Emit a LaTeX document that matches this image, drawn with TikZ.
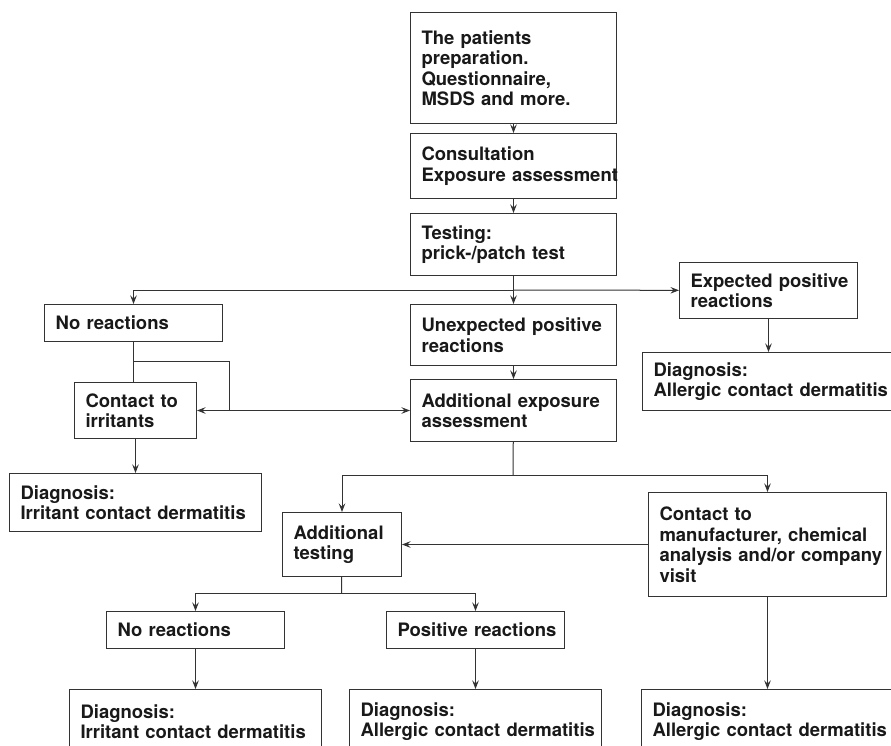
\documentclass[tikz,border=0pt]{standalone}
\usepackage{fontspec}
\setmainfont{TeX Gyre Heros}
\usetikzlibrary{arrows.meta}

\begin{document}
\begin{tikzpicture}[x=1pt, y=-1pt,
        box/.style={draw=black!80, line width=1pt, anchor=north west, align=left,
            inner xsep=11pt, inner ysep=0pt, text=black!90,
            execute at begin node={\hyphenpenalty=10000\exhyphenpenalty=10000},
            font=\bfseries\fontsize{18.5}{20.5}\selectfont},
        link/.style={draw=black!80, line width=1pt},
        flow/.style={link, -{Stealth[length=8.5pt, width=6.5pt, inset=3pt]}},
        both/.style={link, {Stealth[length=8.5pt, width=6.5pt, inset=3pt]}-{Stealth[length=8.5pt, width=6.5pt, inset=3pt]}}]
                \useasboundingbox (0,0) rectangle (891,746);
                \clip (0,0) rectangle (891,746);

                % main column
                \node[box, text width=184pt, minimum height=111pt] (prep) at (410,12)
                    {The patients\\preparation.\\Questionnaire,\\MSDS and more.};
                \node[box, text width=184pt, minimum height=65pt] (consult) at (410,133)
                    {Consultation\\Exposure~assessment};
                \node[box, text width=184pt, minimum height=62pt] (testing) at (410,213)
                    {Testing:\\prick-/patch test};
                \node[box, text width=184pt, minimum height=61pt] (unexp) at (410,304)
                    {Unexpected~positive\\reactions};
                \node[box, text width=184pt, minimum height=62pt] (addexp) at (410,379)
                    {Additional~exposure\\assessment};

                % left branch
                \node[box, text width=156pt, minimum height=37pt] (noreac) at (44,304) {No reactions};
                \node[box, text width=100pt, minimum height=56pt] (irritant) at (74,382) {Contact to\\irritants};
                \node[box, text width=230pt, minimum height=58pt] (diagIa) at (9,473)
                    {Diagnosis:\\Irritant contact dermatitis};

                % right branch
                \node[box, text width=156pt, minimum height=56pt] (expected) at (679,262)
                    {Expected~positive\\reactions};
                \node[box, text width=238pt, minimum height=58pt] (diagAa) at (642,352)
                    {Diagnosis:\\Allergic~contact~dermatitis};

                % lower part
                \node[box, text width=97pt, minimum height=64pt] (addtest) at (282,512) {Additional\\testing};
                \node[box, text width=216pt, minimum height=104pt] (manuf) at (648,492)
                    {Contact to\\manufacturer, chemical\\analysis~and/or~company\\visit};
                \node[box, text width=156pt, minimum height=37pt] (noreacb) at (106,611) {No reactions};
                \node[box, text width=156pt, minimum height=37pt] (posreac) at (386,611) {Positive~reactions};
                \node[box, text width=230pt, minimum height=64pt] (diagIb) at (69,689)
                    {Diagnosis:\\Irritant contact dermatitis};
                \node[box, text width=230pt, minimum height=64pt] (diagAb) at (349,689)
                    {Diagnosis:\\Allergic~contact~dermatitis};
                \node[box, text width=238pt, minimum height=64pt] (diagAc) at (641,689)
                    {Diagnosis:\\Allergic~contact~dermatitis};

                \coordinate (fork1) at (513,290);
                \coordinate (knee) at (133,361);
                \coordinate (corner) at (229,410);
                \coordinate (fork2) at (513,475);
                \coordinate (fork3) at (341.5,593);

                \draw[flow] (prep) -- (consult);
                \draw[flow] (consult) -- (testing);
                \draw[flow] (testing) -- (unexp);
                \draw[flow] (fork1) -| (noreac);
                \draw[flow] (fork1) -- (expected);
                \draw[flow] (expected) -- (expected |- diagAa.north);
                \draw[flow] (unexp) -- (addexp);

                \draw[link] (noreac) -- (noreac |- irritant.north);
                \draw[link] (knee) -| (corner);
                \draw[both] (irritant) -- (addexp);
                \draw[flow] (irritant) -- (diagIa);

                \draw[link] (addexp) -- (fork2);
                \draw[flow] (fork2) -| (addtest);
                \draw[flow] (fork2) -| (manuf);
                \draw[flow] (manuf) -- (addtest);

                \draw[link] (addtest) -- (fork3);
                \draw[flow] (fork3) -| (noreacb);
                \draw[flow] (fork3) -| (posreac);
                \draw[flow] (noreacb) -- (diagIb);
                \draw[flow] (posreac) -- (diagAb);
                \draw[flow] (manuf) -- (manuf |- diagAc.north);
\end{tikzpicture}
\end{document}
